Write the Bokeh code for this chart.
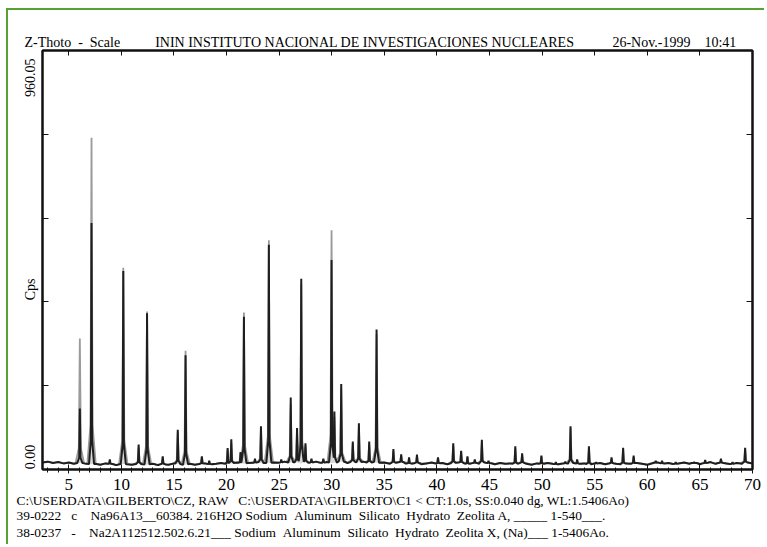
import numpy as np
from bokeh.plotting import figure
from bokeh.models import LinearAxis, FixedTicker, Range1d, Title
from bokeh.embed import file_html
from bokeh.resources import INLINE

# ---------------- data ----------------
X_MIN, X_MAX = 2.5, 70.0
Y_MAX = 960.05

x_ticks = [5, 10, 15, 20, 25, 30, 35, 40, 45, 50, 55, 60, 65, 70]
x_minor_ticks = list(range(3, 71))
y_tick_labels = ["0.00", "960.05"]

# background counts every 0.5 deg from 2.5 to 70
bg_two_theta = [2.5 + 0.5 * i for i in range(136)]
bg_counts = [
    16, 18, 15, 17, 14, 16, 13, 15, 14, 12,
    13, 11, 14, 12, 10, 13, 12, 11, 13, 12,
    11, 13, 10, 12, 11, 14, 12, 10, 13, 11,
    12, 14, 11, 13, 15, 12, 14, 16, 13, 15,
    14, 17, 13, 15, 16, 14, 18, 15, 17, 14,
    16, 15, 18, 14, 17, 15, 16, 19, 15, 17,
    16, 18, 15, 17, 14, 16, 13, 15, 17, 14,
    13, 15, 12, 14, 16, 13, 15, 12, 14, 16,
    14, 12, 15, 13, 16, 14, 12, 15, 13, 14,
    12, 15, 13, 11, 14, 12, 15, 13, 11, 14,
    13, 15, 12, 14, 11, 13, 15, 12, 14, 13,
    11, 14, 12, 15, 13, 11, 14, 16, 13, 15,
    12, 14, 16, 13, 15, 12, 14, 17, 13, 15,
    14, 12, 15, 13, 16, 14,
]

peak_two_theta = [
    6.05, 7.16, 8.90, 10.18, 11.64, 12.44, 13.93, 15.36, 16.10, 17.65,
    18.35, 20.10, 20.45, 21.33, 21.65, 22.70, 23.27, 24.02, 25.20, 26.10,
    26.70, 27.10, 27.50, 28.07, 29.20, 29.98, 30.25, 30.90, 32.00, 32.58,
    33.56, 34.26, 35.86, 36.60, 37.35, 38.10, 40.10, 41.55, 42.30, 42.90,
    43.60, 44.27, 44.90, 47.45, 48.10, 49.93, 51.30, 52.20, 52.70, 53.33,
    54.45, 55.14, 56.60, 57.70, 58.70, 60.80, 61.40, 62.70, 64.45, 65.50,
    67.00, 68.10, 69.30,
]
peak_dark = [
    140, 565, 23, 455, 57, 358, 30, 91, 262, 30,
    20, 49, 69, 40, 350, 25, 99, 515, 23, 165,
    95, 437, 60, 25, 25, 480, 133, 196, 64, 106,
    64, 321, 47, 35, 28, 34, 28, 60, 43, 30,
    23, 68, 20, 53, 37, 32, 17, 18, 99, 23,
    53, 17, 28, 50, 32, 20, 20, 17, 17, 22,
    25, 17, 50,
]
peak_grey = [
    300, 760, 20, 462, 50, 362, 28, 85, 272, 28,
    18, 45, 62, 38, 360, 22, 92, 525, 20, 150,
    90, 425, 55, 22, 22, 548, 120, 185, 60, 98,
    58, 310, 42, 32, 25, 30, 26, 55, 40, 28,
    20, 62, 18, 48, 33, 30, 15, 16, 95, 20,
    48, 15, 25, 46, 28, 18, 18, 15, 15, 20,
    22, 15, 46,
]

NB = "\u00a0"
header_text = ("Z-Thoto" + NB * 2 + "-" + NB * 2 + "Scale" + NB * 10
               + "ININ INSTITUTO NACIONAL DE INVESTIGACIONES NUCLEARES" + NB * 11
               + "26-Nov.-1999" + NB * 4 + "10:41")
y_axis_title = "Cps"
footer_lines = [
    "C:\\USERDATA\\GILBERTO\\CZ, RAW" + NB * 3 + "C:\\USERDATA\\GILBERTO\\C1 < CT:1.0s, SS:0.040 dg, WL:1.5406Ao)",
    "39-0222" + NB * 3 + "c" + NB * 4 + "Na96A13__60384. 216H2O Sodium" + NB * 2 + "Aluminum" + NB * 2
    + "Silicato" + NB * 2 + "Hydrato" + NB * 2 + "Zeolita A, _____ 1-540___.",
    "38-0237" + NB * 3 + "-" + NB * 4 + "Na2A112512.502.6.21___ Sodium" + NB * 2 + "Aluminum" + NB * 2
    + "Silicato" + NB * 2 + "Hydrato" + NB * 2 + "Zeolita X, (Na)___ 1-5406Ao.",
]


# ---------------- build traces from the peak tables ----------------
def build_trace(heights, half_base, half_mid, frac):
    xs = set(bg_two_theta)
    for pk in peak_two_theta:
        xs.update([pk - half_base, pk - half_mid, pk, pk + half_mid, pk + half_base])
    xs = np.array(sorted(v for v in xs if X_MIN <= v <= X_MAX))
    base = np.interp(xs, bg_two_theta, bg_counts)
    ys = base.copy()
    for pk, h in zip(peak_two_theta, heights):
        b = float(np.interp(pk, bg_two_theta, bg_counts))
        m = b + frac * (h - b)
        prof = np.interp(xs, [pk - half_base, pk - half_mid, pk, pk + half_mid, pk + half_base],
                         [b, m, h, m, b], left=0, right=0)
        ys = np.maximum(ys, prof)
    return xs, base, ys


gx, gbase, gy = build_trace(peak_grey, 0.40, 0.10, 0.12)
dx, dbase, dy = build_trace(peak_dark, 0.24, 0.06, 0.10)

FONT = "Liberation Serif"
INK = "#111111"
GREEN = "#56a233"

p = figure(width=758, height=536, title=None,
           x_range=Range1d(X_MIN, X_MAX), y_range=Range1d(0, Y_MAX),
           output_backend="svg", toolbar_location=None,
           min_border_left=34, min_border_right=14, min_border_top=40, min_border_bottom=77)
p.styles = {"margin-left": "6px", "margin-top": "8px",
            "border-left": f"2px solid {GREEN}", "border-top": f"2px solid {GREEN}"}
p.background_fill_color = "white"
p.border_fill_color = "white"
p.grid.visible = False
p.outline_line_color = INK
p.outline_line_width = 2

# traces
p.varea(x=gx, y1=gbase, y2=gy, fill_color="#cfcfcf", fill_alpha=0.8)
p.line(gx, gy, line_color="#9a9a9a", line_width=1.8)
p.line(dx, dy, line_color="#1e1e1e", line_width=2)

# bottom axis
xa = p.xaxis[0]
xa.ticker = FixedTicker(ticks=x_ticks, minor_ticks=x_minor_ticks)
xa.axis_line_width = 2
xa.axis_line_color = INK
xa.major_tick_in = 5
xa.major_tick_out = 4
xa.minor_tick_in = 2
xa.minor_tick_out = 3
xa.major_tick_line_color = INK
xa.minor_tick_line_color = INK
xa.major_label_text_font = FONT
xa.major_label_text_font_size = "17px"
xa.major_label_text_color = "black"
xa.major_label_standoff = 5

y_ticks = [Y_MAX * i / 5 for i in range(6)]

ya = p.yaxis[0]
ya.ticker = FixedTicker(ticks=y_ticks, minor_ticks=[])
ya.axis_line_width = 2
ya.axis_line_color = INK
ya.major_tick_in = 6
ya.major_tick_out = 0
ya.major_tick_line_color = INK
ya.major_label_text_font_size = "0px"
ya.major_label_overrides = {t: "" for t in y_ticks}
ya.major_label_standoff = 0

# second left axis that only carries the rotated texts ("960.05", "Cps", "0.00")
label_pos = {Y_MAX * 0.935: y_tick_labels[1], Y_MAX * 0.43: y_axis_title, Y_MAX * 0.03: y_tick_labels[0]}
ya2 = LinearAxis(ticker=FixedTicker(ticks=list(label_pos.keys()), minor_ticks=[]),
                 major_label_overrides=label_pos,
                 major_label_orientation="vertical",
                 axis_line_color=None, major_tick_line_color=None, minor_tick_line_color=None,
                 major_tick_in=0, major_tick_out=0, minor_tick_in=0, minor_tick_out=0,
                 major_label_standoff=4,
                 major_label_text_font=FONT, major_label_text_font_size="14px",
                 major_label_text_color="black")
p.add_layout(ya2, "left")

top_axis = LinearAxis(ticker=FixedTicker(ticks=x_ticks, minor_ticks=[]),
                      major_tick_in=5, major_tick_out=0, minor_tick_in=0, minor_tick_out=0,
                      axis_line_width=2, axis_line_color=INK,
                      major_tick_line_color=INK,
                      major_label_text_font_size="0px", major_label_standoff=0,
                      major_label_overrides={t: "" for t in x_ticks})
p.add_layout(top_axis, "above")

right_axis = LinearAxis(ticker=FixedTicker(ticks=y_ticks, minor_ticks=[]),
                        major_tick_in=6, major_tick_out=0, minor_tick_in=0, minor_tick_out=0,
                        axis_line_width=2, axis_line_color=INK,
                        major_tick_line_color=INK,
                        major_label_text_font_size="0px", major_label_standoff=0,
                        major_label_overrides={t: "" for t in y_ticks})
p.add_layout(right_axis, "right")

# header line
p.add_layout(Title(text=header_text, align="left", offset=-18, standoff=2,
                   text_font=FONT, text_font_size="14px", text_font_style="normal",
                   text_color="black"), "above")

# footer lines
for i, line in enumerate(footer_lines):
    p.add_layout(Title(text=line, align="left", offset=-26, standoff=(-4 if i == 0 else 0),
                       text_font=FONT, text_font_size="13.4px", text_font_style="normal",
                       text_color="black"), "below")

open("out.html", "w").write(file_html(p, INLINE))
